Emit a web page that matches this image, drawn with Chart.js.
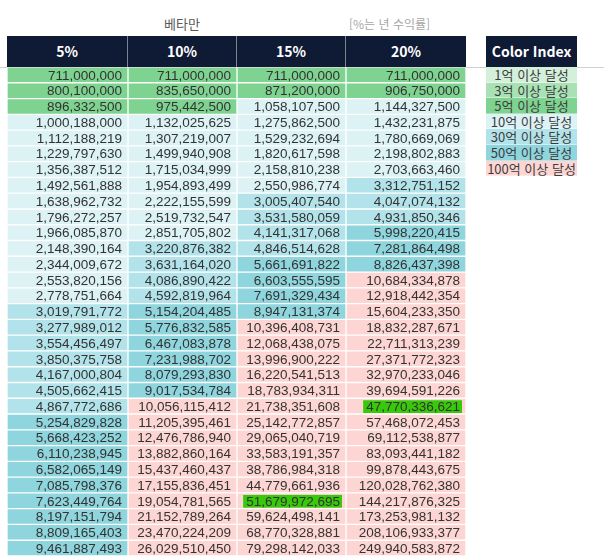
<!DOCTYPE html>
<html lang="ko">
<head>
<meta charset="UTF-8" />
<title>베타만</title>
<script src="https://cdn.jsdelivr.net/npm/chart.js"></script>
<style>
  body {
    margin: 0;
    width: 604px;
    height: 557px;
    overflow: hidden;
    position: relative;
    background: #fff;
    font-family: "Noto Sans CJK KR", "Noto Sans", sans-serif;
  }
  .title {
    position: absolute;
    left: 164px;
    top: 14px;
    font-size: 13px;
    color: #595959;
  }
  .note {
    position: absolute;
    left: 349px;
    top: 15px;
    font-size: 12px;
    color: #a6a6a6;
  }
  .gridline {
    position: absolute;
    left: 0;
    top: 67px;
    width: 604px;
    height: 1px;
    background: #d0d0d0;
  }
  .head {
    position: absolute;
    left: 7px;
    top: 36px;
    height: 31px;
    display: flex;
    background: #0f1b35;
  }
  .head div, .legend .lhead {
    color: #fff;
    font-weight: bold;
    font-size: 14px;
    line-height: 31px;
    text-align: center;
    box-sizing: border-box;
  }
  .head div { border-right: 1px solid #7d8390; }
  .head div:last-child { border-right: none; }
  #tableChart {
    position: absolute;
    left: 7px;
    top: 67px;
  }
  .legend {
    position: absolute;
    left: 486px;
    top: 36px;
    width: 91px;
  }
  .legend .lhead {
    background: #0f1b35;
    height: 31px;
    font-size: 14px;
  }
  .legend .row {
    height: 15.6px;
    line-height: 15.6px;
    font-size: 13px;
    color: #3d3d3d;
    text-align: center;
    border-bottom: 1px solid rgba(255,255,255,0.4);
    box-sizing: border-box;
  }
</style>
</head>
<body>

<div class="title">베타만</div>
<div class="note">[%는 년 수익률]</div>
<div class="gridline"></div>
<div class="head" id="head"></div>
<canvas id="tableChart" width="459" height="489"></canvas>
<div class="legend" id="legend"></div>

<script>
  const columns = ['5%', '10%', '15%', '20%'];

  const rate5 = [711000000, 800100000, 896332500, 1000188000, 1112188219, 1229797630, 1356387512,
    1492561888, 1638962732, 1796272257, 1966085870, 2148390164, 2344009672, 2553820156, 2778751664,
    3019791772, 3277989012, 3554456497, 3850375758, 4167000804, 4505662415, 4867772686, 5254829828,
    5668423252, 6110238945, 6582065149, 7085798376, 7623449764, 8197151794, 8809165403, 9461887493];
  const rate10 = [711000000, 835650000, 975442500, 1132025625, 1307219007, 1499940908, 1715034999,
    1954893499, 2222155599, 2519732547, 2851705802, 3220876382, 3631164020, 4086890422, 4592819964,
    5154204485, 5776832585, 6467083878, 7231988702, 8079293830, 9017534784, 10056115412, 11205395461,
    12476786940, 13882860164, 15437460437, 17155836451, 19054781565, 21152789264, 23470224209, 26029510450];
  const rate15 = [711000000, 871200000, 1058107500, 1275862500, 1529232694, 1820617598, 2158810238,
    2550986774, 3005407540, 3531580059, 4141317068, 4846514628, 5661691822, 6603555595, 7691329434,
    8947131374, 10396408731, 12068438075, 13996900222, 16220541513, 18783934311, 21738351608, 25142772857,
    29065040719, 33583191357, 38786984318, 44779661936, 51679972695, 59624498141, 68770328881, 79298142033];
  const rate20 = [711000000, 906750000, 1144327500, 1432231875, 1780669069, 2198802883, 2703663460,
    3312751152, 4047074132, 4931850346, 5998220415, 7281864498, 8826437398, 10684334878, 12918442354,
    15604233350, 18832287671, 22711313239, 27371772323, 32970233046, 39694591226, 47770336621, 57468072453,
    69112538877, 83093441182, 99878443675, 120028762380, 144217876325, 173253981132, 208106933377, 249940583872];
  const series = [rate5, rate10, rate15, rate20];

  // colour index: thresholds (원) and labels
  const legendLabels = ['1억 이상 달성', '3억 이상 달성', '5억 이상 달성', '10억 이상 달성', '30억 이상 달성', '50억 이상 달성', '100억 이상 달성'];
  const thresholds = [1e8, 3e8, 5e8, 1e9, 3e9, 5e9, 1e10];
  const legendColors = ['#d4f0da', '#a8e2b4', '#7dd38f', '#dcf2f5', '#b3e3ea', '#8ed5de', '#fdd6d3'];

  // cells marked in bright green [column, row]
  const highlights = [[3, 21], [2, 27]];

  // layout
  const colWidths = [121, 109, 109, 120];
  const edges = [0];
  colWidths.forEach(w => edges.push(edges[edges.length - 1] + w));

  function cellColor(v) {
    let c = '#ffffff';
    thresholds.forEach((t, i) => { if (v >= t) c = legendColors[i]; });
    return c;
  }

  // header
  const head = document.getElementById('head');
  columns.forEach((c, i) => {
    const d = document.createElement('div');
    d.style.width = colWidths[i] + 'px';
    d.textContent = c;
    head.appendChild(d);
  });

  // colour legend
  const legend = document.getElementById('legend');
  legend.innerHTML = '<div class="lhead">Color Index</div>';
  legendLabels.forEach((l, i) => {
    const r = document.createElement('div');
    r.className = 'row';
    r.style.background = legendColors[i];
    r.textContent = l;
    legend.appendChild(r);
  });

  const cellText = {
    id: 'cellText',
    afterDatasetsDraw(chart) {
      const ctx = chart.ctx;
      ctx.save();
      ctx.font = '13.5px "Liberation Sans", Arial, sans-serif';
      ctx.textAlign = 'right';
      ctx.textBaseline = 'middle';
      chart.data.datasets.forEach((ds, ci) => {
        chart.getDatasetMeta(ci).data.forEach((bar, ri) => {
          const txt = series[ci][ri].toLocaleString('en-US');
          const right = Math.max(bar.x, bar.base) - 6;
          if (highlights.some(h => h[0] === ci && h[1] === ri)) {
            const w = ctx.measureText(txt).width;
            ctx.fillStyle = '#38c90a';
            ctx.fillRect(right - w - 3, bar.y - bar.height / 2 + 2, w + 5, bar.height - 3);
          }
          ctx.fillStyle = '#333333';
          ctx.fillText(txt, right, bar.y + 1);
        });
      });
      ctx.restore();
    }
  };

  new Chart(document.getElementById('tableChart'), {
    type: 'bar',
    data: {
      labels: rate5.map((v, i) => i + 1),
      datasets: columns.map((c, ci) => ({
        label: c,
        data: series[ci].map(() => [edges[ci], edges[ci + 1]]),
        backgroundColor: series[ci].map(cellColor),
        borderColor: 'rgba(255,255,255,0.35)',
        borderWidth: 1,
        borderSkipped: false,
        barPercentage: 1,
        categoryPercentage: 1,
        grouped: false
      }))
    },
    options: {
      indexAxis: 'y',
      responsive: false,
      animation: false,
      layout: { padding: 0 },
      plugins: {
        legend: { display: false },
        tooltip: { enabled: false }
      },
      scales: {
        x: { type: 'linear', min: 0, max: edges[edges.length - 1], display: false },
        y: { display: false }
      }
    },
    plugins: [cellText]
  });
</script>

</body>
</html>
